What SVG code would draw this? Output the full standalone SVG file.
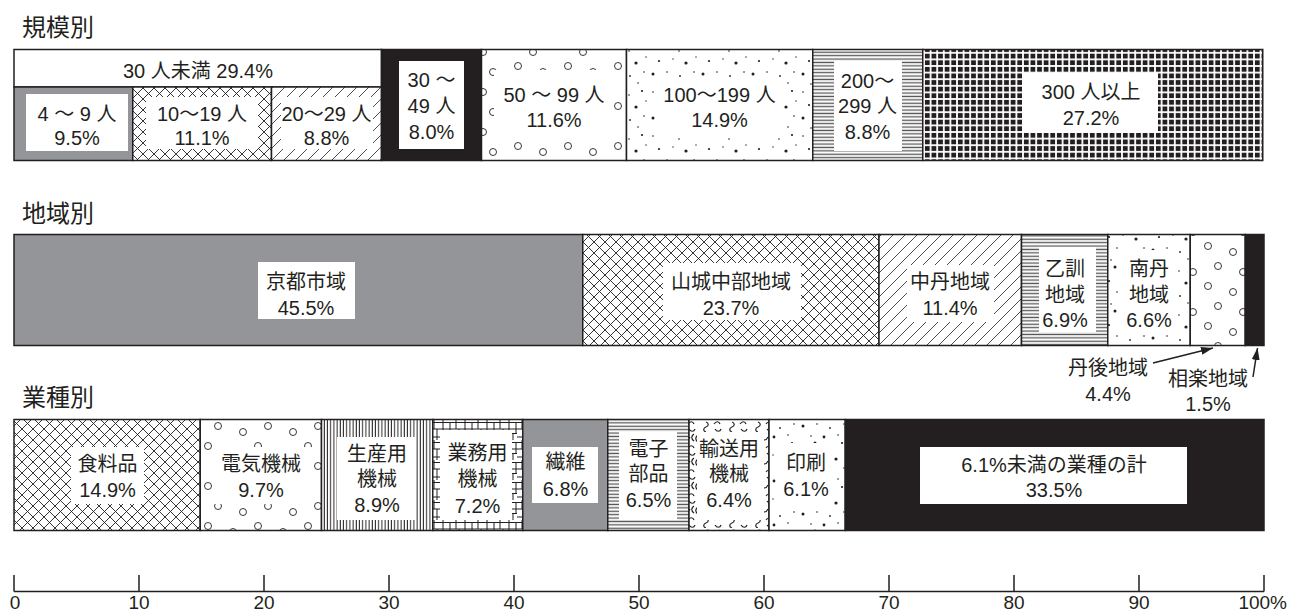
<svg xmlns="http://www.w3.org/2000/svg" width="1290" height="614" viewBox="0 0 1290 614">
<style>
text{font-family:"Liberation Sans","Noto Sans CJK JP",sans-serif;font-size:20px;fill:#231f20;text-anchor:middle}
.ttl{font-size:24px;text-anchor:start}
.axl{font-size:19px}
.seg{stroke:#231f20;stroke-width:1.5}
.box{fill:#fff;stroke:none}
.ax{stroke:#231f20;stroke-width:1.5;fill:none}
.con{stroke:#231f20;stroke-width:1.5;fill:none}
</style>
<defs>
<pattern id="xh" width="11" height="11" patternUnits="userSpaceOnUse"><rect width="11" height="11" fill="#fff"/><path d="M0,0L11,11M11,0L0,11" stroke="#231f20" stroke-width="0.9"/></pattern>
<pattern id="dg" width="12" height="12" patternUnits="userSpaceOnUse"><rect width="12" height="12" fill="#fff"/><path d="M0,12L12,0M-3,3L3,-3M9,15L15,9" stroke="#231f20" stroke-width="0.8"/></pattern>
<pattern id="ci" width="50" height="40" patternUnits="userSpaceOnUse"><rect width="50" height="40" fill="#fff"/><g fill="none" stroke="#231f20" stroke-width="0.9"><circle cx="8" cy="6" r="3.5"/><circle cx="33" cy="12" r="3.5"/><circle cx="18" cy="26" r="3.5"/><circle cx="43" cy="32" r="3.5"/></g></pattern>
<pattern id="dt" width="50" height="44" patternUnits="userSpaceOnUse"><rect width="50" height="44" fill="#fff"/><g fill="#231f20"><circle cx="3" cy="4" r="0.8"/><circle cx="15" cy="3" r="1.5"/><circle cx="29" cy="7" r="0.8"/><circle cx="42" cy="3" r="1.1"/><circle cx="9" cy="17" r="1.1"/><circle cx="23" cy="15" r="0.7"/><circle cx="36" cy="19" r="1.6"/><circle cx="46" cy="13" r="0.7"/><circle cx="3" cy="30" r="1.5"/><circle cx="17" cy="28" r="0.8"/><circle cx="30" cy="32" r="0.9"/><circle cx="44" cy="28" r="0.8"/><circle cx="11" cy="40" r="0.8"/><circle cx="24" cy="41" r="1.4"/><circle cx="38" cy="39" r="0.8"/></g></pattern>
<pattern id="hl" width="8" height="3.4" patternUnits="userSpaceOnUse"><rect width="8" height="3.4" fill="#fff"/><rect y="0.6" width="8" height="1.3" fill="#555"/></pattern>
<pattern id="vl" width="3.2" height="10" patternUnits="userSpaceOnUse"><rect width="3.2" height="10" fill="#fff"/><rect x="0.6" width="1" height="10" fill="#231f20"/></pattern>
<pattern id="gs" width="6.6" height="6.6" patternUnits="userSpaceOnUse"><rect width="6.6" height="6.6" fill="#fff"/><rect x="0.9" y="0.9" width="4.8" height="4.8" fill="#231f20"/></pattern>
<pattern id="gr" width="22" height="20" patternUnits="userSpaceOnUse"><rect width="22" height="20" fill="#fff"/><path d="M0,2.5H22M0,9H22M0,13.5H11M11,17H22M3,0V20M10,2.5V13.5M16,0V9M19,9V20M7,13.5V20" stroke="#231f20" stroke-width="1"/></pattern>
<pattern id="sq" width="26" height="24" patternUnits="userSpaceOnUse"><rect width="26" height="24" fill="#fff"/><g fill="none" stroke="#231f20" stroke-width="1.2"><path d="M2,5c2,-4 5,-4 6,0s4,4 6,0"/><path d="M18,2c-3,2 -3,5 0,7"/><path d="M22,3c-3,2 -3,5 0,7"/><path d="M4,14c3,1 3,4 0,5s-3,4 0,5"/><path d="M12,16c2,-3 5,-3 6,0"/><path d="M13,21c2,3 5,3 6,0"/></g></pattern>
<marker id="ar" viewBox="0 0 12 8" refX="12" refY="4" markerWidth="12" markerHeight="8" markerUnits="userSpaceOnUse" orient="auto"><path d="M0,0L12,4L0,8z" fill="#231f20"/></marker>
</defs>
<rect width="1290" height="614" fill="#fff"/>

<text class="ttl" x="22" y="36">規模別</text>
<text class="ttl" x="22" y="222">地域別</text>
<text class="ttl" x="22" y="406">業種別</text>

<!-- 規模別 -->
<g id="s-under30">
<rect class="seg" x="14" y="49.5" width="367.5" height="37.5" fill="#fff"/>
<text x="198" y="78">30 人未満 29.4%</text>
</g>
<g id="s-4-9">
<rect class="seg" x="14" y="87" width="118.75" height="73.5" fill="#939598"/>
<rect class="box" x="26" y="94" width="102" height="57"/>
<text x="77" y="121">4 〜 9 人</text><text x="77" y="145">9.5%</text>
</g>
<g id="s-10-19">
<rect class="seg" x="132.75" y="87" width="138.75" height="73.5" fill="url(#xh)"/>
<rect class="box" x="146" y="97" width="112" height="52"/>
<text x="202" y="121">10〜19 人</text><text x="202" y="145">11.1%</text>
</g>
<g id="s-20-29">
<rect class="seg" x="271.5" y="87" width="110" height="73.5" fill="url(#dg)"/>
<rect class="box" x="281" y="97" width="92" height="52"/>
<text x="326.5" y="121">20〜29 人</text><text x="326.5" y="145">8.8%</text>
</g>
<g id="s-30-49">
<rect class="seg" x="381.5" y="49.5" width="100" height="111" fill="#231f20"/>
<rect class="box" x="399" y="61" width="65" height="88"/>
<text x="431.5" y="87">30 〜</text><text x="431.5" y="113">49 人</text><text x="431.5" y="139">8.0%</text>
</g>
<g id="s-50-99">
<rect class="seg" x="481.5" y="49.5" width="145" height="111" fill="url(#ci)"/>
<rect class="box" x="494" y="70" width="118" height="70"/>
<text x="554" y="102">50 〜 99 人</text><text x="554" y="127">11.6%</text>
</g>
<g id="s-100-199">
<rect class="seg" x="626.5" y="49.5" width="186.25" height="111" fill="url(#dt)"/>
<rect class="box" x="656" y="80" width="127" height="58"/>
<text x="719.5" y="102">100〜199 人</text><text x="719.5" y="127">14.9%</text>
</g>
<g id="s-200-299">
<rect class="seg" x="812.75" y="49.5" width="110" height="111" fill="url(#hl)"/>
<rect class="box" x="834" y="61" width="68" height="90"/>
<text x="867.5" y="88">200〜</text><text x="867.5" y="113">299 人</text><text x="867.5" y="139">8.8%</text>
</g>
<g id="s-300">
<rect class="seg" x="922.75" y="49.5" width="340" height="111" fill="url(#gs)"/>
<rect class="box" x="1022" y="73" width="136" height="60"/>
<text x="1091" y="99">300 人以上</text><text x="1091" y="125">27.2%</text>
</g>

<!-- 地域別 -->
<g id="r-kyoto">
<rect class="seg" x="14" y="234.5" width="568.75" height="111" fill="#939598"/>
<rect class="box" x="258" y="262" width="97" height="57"/>
<text x="306" y="289">京都市域</text><text x="306" y="315">45.5%</text>
</g>
<g id="r-yamashiro">
<rect class="seg" x="582.75" y="234.5" width="296.25" height="111" fill="url(#xh)"/>
<rect class="box" x="663" y="263" width="138" height="57"/>
<text x="731" y="289">山城中部地域</text><text x="731" y="315">23.7%</text>
</g>
<g id="r-chutan">
<rect class="seg" x="879" y="234.5" width="142.5" height="111" fill="url(#dg)"/>
<rect class="box" x="907" y="265" width="87" height="57"/>
<text x="950" y="289">中丹地域</text><text x="950" y="315">11.4%</text>
</g>
<g id="r-otokuni">
<rect class="seg" x="1021.5" y="234.5" width="86.25" height="111" fill="url(#hl)"/>
<rect class="box" x="1039" y="247" width="57" height="85"/>
<text x="1065" y="276">乙訓</text><text x="1065" y="302">地域</text><text x="1065" y="327">6.9%</text>
</g>
<g id="r-nantan">
<rect class="seg" x="1107.75" y="234.5" width="82.5" height="111" fill="url(#dt)"/>
<rect class="box" x="1121" y="250" width="57" height="82"/>
<text x="1149" y="276">南丹</text><text x="1149" y="302">地域</text><text x="1149" y="327">6.6%</text>
</g>
<g id="r-tango">
<rect class="seg" x="1190.25" y="234.5" width="55" height="111" fill="url(#ci)"/>
<text x="1108" y="375">丹後地域</text><text x="1108" y="401">4.4%</text>
</g>
<g id="r-soraku">
<rect class="seg" x="1245.25" y="234.5" width="18.75" height="111" fill="#231f20"/>
<text x="1208" y="386">相楽地域</text><text x="1208" y="411">1.5%</text>
</g>

<!-- 業種別 -->
<g id="i-food">
<rect class="seg" x="14" y="419.5" width="186.25" height="111" fill="url(#xh)"/>
<rect class="box" x="71" y="447" width="73" height="57"/>
<text x="107.5" y="471">食料品</text><text x="107.5" y="497">14.9%</text>
</g>
<g id="i-elec">
<rect class="seg" x="200.25" y="419.5" width="121.25" height="111" fill="url(#ci)"/>
<rect class="box" x="212" y="447" width="101" height="57"/>
<text x="261" y="471">電気機械</text><text x="261" y="497">9.7%</text>
</g>
<g id="i-prod">
<rect class="seg" x="321.5" y="419.5" width="111.25" height="111" fill="url(#vl)"/>
<rect class="box" x="337" y="437" width="78" height="83"/>
<text x="377" y="461">生産用</text><text x="377" y="486">機械</text><text x="377" y="512">8.9%</text>
</g>
<g id="i-biz">
<rect class="seg" x="432.75" y="419.5" width="90" height="111" fill="url(#gr)"/>
<rect class="box" x="440" y="430" width="72" height="90"/>
<text x="477.5" y="460">業務用</text><text x="477.5" y="486">機械</text><text x="477.5" y="513">7.2%</text>
</g>
<g id="i-fiber">
<rect class="seg" x="522.75" y="419.5" width="85" height="111" fill="#939598"/>
<rect class="box" x="532" y="447" width="66" height="56"/>
<text x="565.5" y="469">繊維</text><text x="565.5" y="496">6.8%</text>
</g>
<g id="i-parts">
<rect class="seg" x="607.75" y="419.5" width="81.25" height="111" fill="url(#hl)"/>
<rect class="box" x="619" y="432" width="58" height="88"/>
<text x="648.5" y="456">電子</text><text x="648.5" y="481">部品</text><text x="648.5" y="507">6.5%</text>
</g>
<g id="i-trans">
<rect class="seg" x="689" y="419.5" width="80" height="111" fill="url(#sq)"/>
<rect class="box" x="697" y="432" width="67" height="88"/>
<text x="729" y="456">輸送用</text><text x="729" y="481">機械</text><text x="729" y="507">6.4%</text>
</g>
<g id="i-print">
<rect class="seg" x="769" y="419.5" width="76.25" height="111" fill="url(#dt)"/>
<rect class="box" x="777" y="443" width="57" height="67"/>
<text x="806" y="470">印刷</text><text x="806" y="496">6.1%</text>
</g>
<g id="i-other">
<rect class="seg" x="845.25" y="419.5" width="418.75" height="111" fill="#231f20"/>
<rect class="box" x="920" y="447" width="267" height="57"/>
<text x="1054" y="472">6.1%未満の業種の計</text><text x="1054" y="497">33.5%</text>
</g>

<!-- connectors -->
<g id="connectors">
<path class="con" d="M1153,363L1213,348" marker-end="url(#ar)"/>
<path class="con" d="M1253,377L1257.5,348" marker-end="url(#ar)"/>
</g>

<!-- axis -->
<g id="axis">
<path class="ax" d="M14,591.5H1264M14,575V591.5M139,575V591.5M264,575V591.5M389,575V591.5M514,575V591.5M639,575V591.5M764,575V591.5M889,575V591.5M1014,575V591.5M1139,575V591.5M1264,575V591.5"/>
<text class="axl" x="15" y="609">0</text>
<text class="axl" x="139" y="609">10</text>
<text class="axl" x="264" y="609">20</text>
<text class="axl" x="389" y="609">30</text>
<text class="axl" x="514" y="609">40</text>
<text class="axl" x="639" y="609">50</text>
<text class="axl" x="764" y="609">60</text>
<text class="axl" x="889" y="609">70</text>
<text class="axl" x="1014" y="609">80</text>
<text class="axl" x="1139" y="609">90</text>
<text class="axl" x="1287" y="609" style="text-anchor:end">100%</text>
</g>
</svg>
